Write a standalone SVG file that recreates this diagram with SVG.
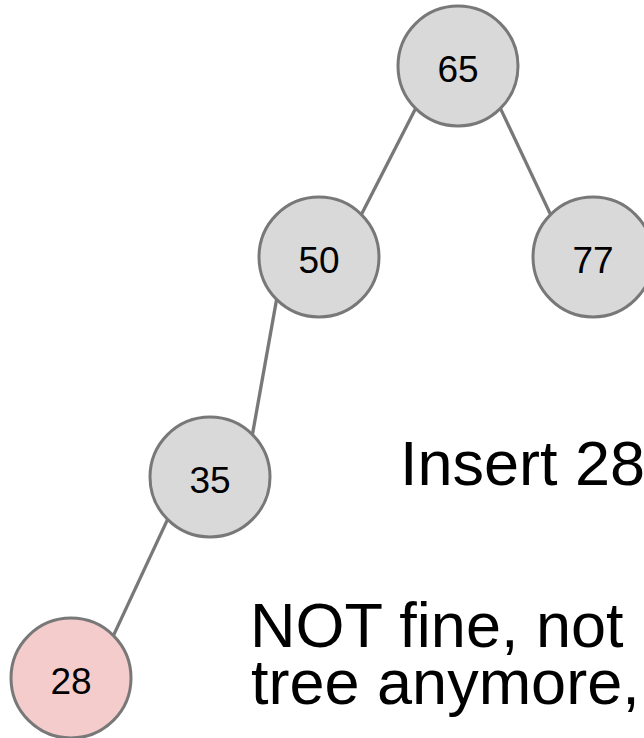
<svg xmlns="http://www.w3.org/2000/svg" width="644" height="738" viewBox="0 0 644 738">
<style>
.node circle{fill:#d9d9d9;stroke:#787878;stroke-width:3}
.node.new circle{fill:#f4cccc}
.node text{font-family:"Liberation Sans",Arial,sans-serif;font-size:37px;fill:#000;text-anchor:middle}
.edges line{stroke:#787878;stroke-width:3.3}
.label{font-family:"Liberation Sans",Arial,sans-serif;font-size:63px;fill:#000}
</style>
<rect width="644" height="738" fill="#fff"/>
<g id="connectors" class="edges">
<line x1="415.6" y1="108.4" x2="361.4" y2="214.6"/>
<line x1="500.4" y1="108.4" x2="550.6" y2="214.6"/>
<line x1="276.6" y1="299.4" x2="252.4" y2="434.6"/>
<line x1="167.6" y1="519.4" x2="113.4" y2="635.6"/>
</g>
<g id="node-65" class="node"><circle cx="458" cy="66" r="60"/><text x="458" y="82">65</text></g>
<g id="node-50" class="node"><circle cx="319" cy="257" r="60"/><text x="319" y="273">50</text></g>
<g id="node-77" class="node"><circle cx="593" cy="257" r="60"/><text x="593" y="273">77</text></g>
<g id="node-35" class="node"><circle cx="210" cy="477" r="60"/><text x="210" y="493">35</text></g>
<g id="node-28" class="node new"><circle cx="71" cy="678" r="60"/><text x="71" y="694">28</text></g>
<text class="label" x="400" y="485">Insert 28</text>
<text class="label"><tspan x="250" y="647">NOT fine, not</tspan><tspan x="251" y="704">tree anymore,</tspan></text>
</svg>
